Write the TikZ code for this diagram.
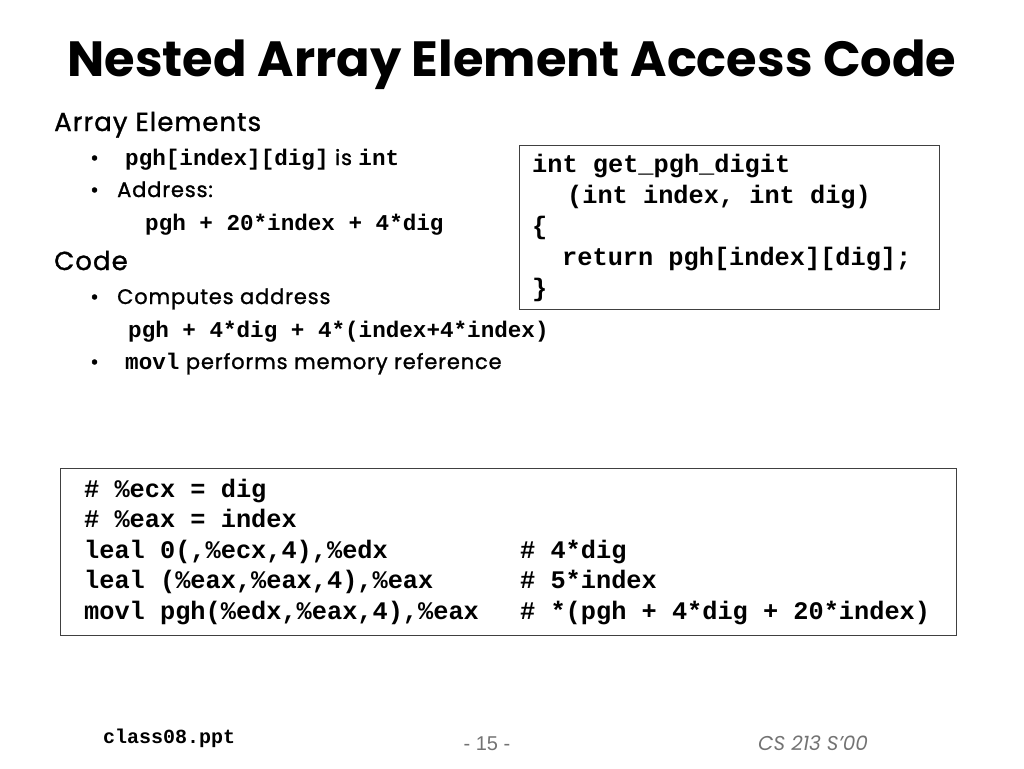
\documentclass[tikz,border=0pt]{standalone}
\usepackage{fontspec}
\setmainfont{Poppins}
\newfontfamily\bodyfont[FakeBold=1.2, LetterSpace=4]{Poppins}
\setmonofont{Liberation Mono}
\newfontfamily\footfont{Liberation Sans}
\begin{document}
\begin{tikzpicture}[x=1pt,y=-1pt,
  txt/.style={anchor=base west, inner sep=0pt},
  codebox/.style={draw=black!75, line width=1pt, inner sep=0pt},
  head/.style={txt, font=\fontsize{26}{30}\selectfont\bodyfont},
  bul/.style={txt, font=\fontsize{21}{24}\selectfont\bodyfont},
  lmono/.style={txt, font=\fontsize{22.6}{26}\selectfont\ttfamily\bfseries},
  cmono/.style={txt, font=\fontsize{25.3}{30}\selectfont\ttfamily\bfseries},
  gray/.style={text=black!55}]
\useasboundingbox (0,0) rectangle (1024,768);
\fill[white] (0,0) rectangle (1024,768);
% title
\node[inner sep=0pt, anchor=base, font=\fontsize{49.5}{56}\selectfont\bfseries] (title) at (512,76) {Nested Array Element Access Code};
% left text
\node[head] (h1) at (54,131) {Array Elements};
\node[bul] (d1) at (90,165) {\textbullet};
\node[bul] (t1) at (125,165) {{\fontsize{22.6}{26}\selectfont\ttfamily\bfseries pgh[index][dig]} is {\fontsize{22.6}{26}\selectfont\ttfamily\bfseries int}};
\node[bul] (d2) at (90,197) {\textbullet};
\node[bul] (t2) at (117,197) {Address:};
\node[lmono] (t3) at (145,230) {pgh + 20*index + 4*dig};
\node[head] (h2) at (54,270) {Code};
\node[bul] (d3) at (90,304) {\textbullet};
\node[bul] (t4) at (117,304) {Computes address};
\node[lmono] (t5) at (128,337) {pgh + 4*dig + 4*(index+4*index)};
\node[bul] (d4) at (90,369) {\textbullet};
\node[bul] (t6) at (125,369) {{\fontsize{22.6}{26}\selectfont\ttfamily\bfseries movl} performs memory reference};
% C code box
\node[codebox, minimum width=420pt, minimum height=164pt] (cbox) at (729,227) {};
\node[cmono] (c1) at (532,172) {int get\_pgh\_digit};
\node[cmono] (c2) at (567,203) {(int index, int dig)};
\node[cmono] (c3) at (532,234) {\{};
\node[cmono] (c4) at (562,265) {return pgh[index][dig];};
\node[cmono] (c5) at (532,296) {\}};
% assembly box
\node[codebox, minimum width=896pt, minimum height=167pt] (abox) at (508,551.5) {};
\node[cmono] (a1) at (84,497) {\# \%ecx = dig};
\node[cmono] (a2) at (84,527) {\# \%eax = index};
\node[cmono] (a3) at (84,558) {leal 0(,\%ecx,4),\%edx};
\node[cmono] (a4) at (84,588) {leal (\%eax,\%eax,4),\%eax};
\node[cmono] (a5) at (84,619) {movl pgh(\%edx,\%eax,4),\%eax};
\node[cmono] (k3) at (520,558) {\# 4*dig};
\node[cmono] (k4) at (520,588) {\# 5*index};
\node[cmono] (k5) at (520,619) {\# *(pgh + 4*dig + 20*index)};
% footer
\node[txt, font=\fontsize{20}{24}\selectfont\ttfamily\bfseries] (f1) at (103,743) {class08.ppt};
\node[inner sep=0pt, anchor=base, gray, font=\fontsize{20}{24}\selectfont\footfont] (f2) at (487,750) {- 15 -};
\node[txt, gray, font=\fontsize{20}{22}\selectfont\itshape] (f3) at (758,750) {CS 213 S'00};
\end{tikzpicture}
\end{document}
